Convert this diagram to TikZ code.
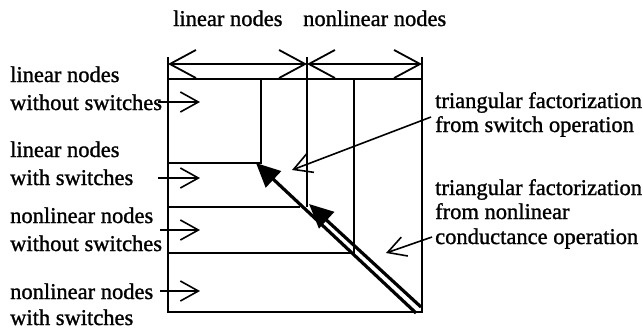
\documentclass[tikz,border=0pt]{standalone}
\usepackage{fontspec}
\setmainfont{Liberation Serif}[FakeBold=1.2]
\usetikzlibrary{arrows.meta}
\begin{document}
\begin{tikzpicture}[x=1pt,y=-1pt,
  frame/.style={line width=1.8pt},
  lbl/.style={anchor=base west, inner sep=0pt, font=\fontsize{22.5}{27}\selectfont},
  dimarrow/.style={line width=1.8pt, {Straight Barb[length=26pt,width=28pt]}-{Straight Barb[length=26pt,width=28pt]}},
  ptr/.style={line width=1.6pt, -{Straight Barb[length=18pt,width=20pt]}},
  diag/.style={line width=3.2pt, -{Triangle[length=24pt,width=22pt]}},
]
\useasboundingbox (0,0) rectangle (643,333);
% frame coordinates
\coordinate (TL) at (168,79);
\coordinate (TR) at (422,79);
\coordinate (BL) at (168,312);
\coordinate (BR) at (422,312);
\coordinate (e1) at (168,57);
\coordinate (e2) at (307,57);
\coordinate (e3) at (422,57);
\coordinate (d1) at (168,64);
\coordinate (d2) at (307,64);
\coordinate (d3) at (422,64);
\coordinate (v1t) at (261,79);
\coordinate (c1) at (261,163);
\coordinate (h1l) at (168,163);
\coordinate (c2) at (307,207);
\coordinate (h2l) at (168,207);
\coordinate (h2r) at (300,207);
\coordinate (v3t) at (354,79);
\coordinate (c3) at (354,253);
\coordinate (h3l) at (168,253);
% frame
\draw[frame] (e1) -- (BL) -- (BR) -- (e3);
\draw[frame] (TL) -- (TR);
\draw[frame] (e2) -- (c2);
\draw[frame] (v1t) -- (c1) -- (h1l);
\draw[frame] (h2l) -- (h2r);
\draw[frame] (v3t) -- (c3) -- (h3l);
% dimension arrows
\draw[dimarrow] (d1) -- (d2);
\draw[dimarrow] (d2) -- (d3);
% diagonal arrows
\coordinate (a1s) at (416,313);
\coordinate (a1e) at (256,163);
\coordinate (a2s) at (421,307);
\coordinate (a2e) at (309,204);
\draw[diag] (a1s) -- (a1e);
\draw[diag] (a2s) -- (a2e);
% labels
\node[lbl] (top1) at (173,26) {linear nodes};
\node[lbl] (top2) at (303,26) {nonlinear nodes};
\node[lbl] (l1a) at (10,82) {linear nodes};
\node[lbl] (l1b) at (10,110) {without switches};
\node[lbl] (l2a) at (10,157) {linear nodes};
\node[lbl] (l2b) at (10,185) {with switches};
\node[lbl] (l3a) at (10,223) {nonlinear nodes};
\node[lbl] (l3b) at (10,251) {without switches};
\node[lbl] (l4a) at (10,299) {nonlinear nodes};
\node[lbl] (l4b) at (10,325) {with switches};
\node[lbl] (r1a) at (435,108) {triangular factorization};
\node[lbl] (r1b) at (435,132) {from switch operation};
\node[lbl] (r2a) at (435,195) {triangular factorization};
\node[lbl] (r2b) at (435,219) {from nonlinear};
\node[lbl] (r2c) at (435,244) {conductance operation};
% pointer arrows
\coordinate (p1s) at (431,117);
\coordinate (p1e) at (292,170);
\coordinate (p2s) at (432,237);
\coordinate (p2e) at (386,253);
\draw[ptr] (p1s) -- (p1e);
\draw[ptr] (p2s) -- (p2e);
\coordinate (q1s) at (158,102);
\coordinate (q1e) at (200,102);
\coordinate (q2s) at (158,178);
\coordinate (q2e) at (200,178);
\coordinate (q3s) at (160,230);
\coordinate (q3e) at (200,230);
\coordinate (q4s) at (160,291);
\coordinate (q4e) at (200,291);
\draw[ptr] (q1s) -- (q1e);
\draw[ptr] (q2s) -- (q2e);
\draw[ptr] (q3s) -- (q3e);
\draw[ptr] (q4s) -- (q4e);
\end{tikzpicture}
\end{document}
